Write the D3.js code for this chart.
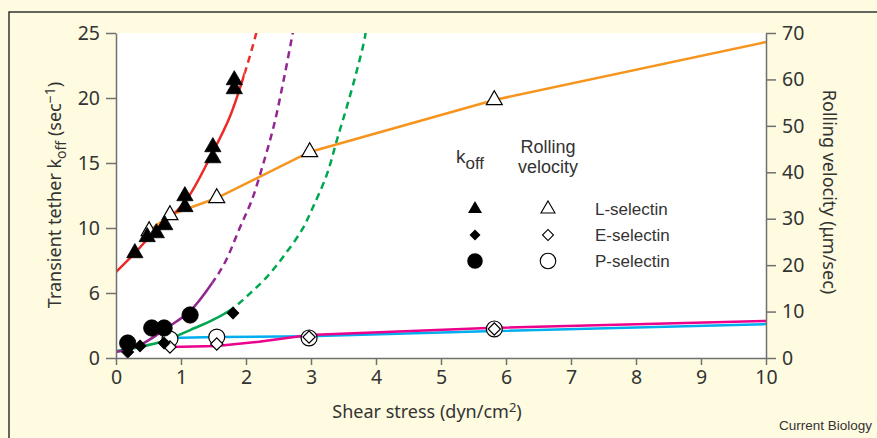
<!DOCTYPE html>
<html>
<head>
<meta charset="utf-8">
<script src="https://cdn.jsdelivr.net/npm/d3@7"></script>
<style>
  body { margin: 0; background: #fff; }
  svg text { fill: #333; }
  .axis text { font-family: "Noto Sans", "Open Sans", sans-serif; font-size: 19.5px; fill: #333; }
  .axis path, .axis line { stroke: #707070; stroke-width: 1.5px; }
</style>
</head>
<body>
<svg id="chart" width="877" height="438"></svg>
<script>
// shear stress (dyn/cm2) vs koff (sec-1) and rolling velocity (um/sec)
var koffTicks = [0, 6, 10, 15, 20, 25];
var velTicks = [0, 10, 20, 30, 40, 50, 60, 70];
var shearTicks = [0, 1, 2, 3, 4, 5, 6, 7, 8, 9, 10];

// measured koff, filled symbols
var lKoff = [[0.29,8.46],[0.48,9.45],[0.62,9.69],[0.75,10.23],[1.06,11.62],[1.06,12.46],[1.49,15.38],[1.49,16.23],[1.82,20.69],[1.82,21.38]];
var eKoff = [[0.18,0.55],[0.37,1.11],[0.74,1.38],[1.8,4.15]];
var pKoff = [[0.18,1.38],[0.55,2.77],[0.74,2.77],[1.14,3.97]];

// koff fits; solid up to the *SolidTo shear value, dashed beyond
var lFit = [[0,7.29],[0.29,8.46],[0.6,9.82],[1.06,12.0],[1.49,15.85],[1.75,18.54],[1.98,21.92],[2.15,24.85],[2.2,26]];
var lSolidTo = 1.98;
var pFit = [[0,0.55],[0.37,1.2],[0.78,2.77],[1.14,4.34],[1.49,6.68],[1.68,7.91],[1.91,10.08],[2.09,12.15],[2.26,14.85],[2.43,17.9],[2.58,21.4],[2.72,25],[2.76,26]];
var pSolidTo = 1.49;
var eFit = [[0,0.65],[0.37,1.02],[0.78,1.66],[1.14,2.58],[1.49,3.51],[1.8,4.6],[2.05,5.9],[2.32,6.98],[2.57,8.22],[2.86,9.88],[3.03,11.6],[3.25,14.2],[3.4,16.8],[3.55,19.3],[3.71,22.2],[3.83,24.7],[3.86,26]];
var eSolidTo = 1.8;

// rolling velocity, open symbols
var lVel = [[0.51,27.35],[0.83,30.8],[1.55,34.46],[2.98,44.37],[5.82,55.57]];
var eVel = [[0.83,2.37],[1.55,3.02],[2.97,4.52],[5.82,6.25]];
var pVel = [[0.83,4.09],[1.55,4.52],[2.97,4.31],[5.82,6.25]];
var lVelLine = [[0.51,27.35],[0.83,30.8],[1.55,34.46],[2.98,44.37],[5.82,55.57],[10,68.06]];
var eVelLine = [[0.83,2.37],[1.55,2.6],[2.2,3.5],[2.97,4.95],[5.82,6.5],[10,7.97]];
var pVelLine = [[0.83,4.3],[1.55,4.5],[2.97,4.7],[5.82,5.8],[10,7.3]];

var legendRows = ["L-selectin", "E-selectin", "P-selectin"];

var colors = {red:"#ee2a27", purple:"#92278f", green:"#00a651", orange:"#f7941d", cyan:"#00aeef", pink:"#ec008c"};

var margin = {top:33, left:116, right:111, bottom:80};
var W = 877, H = 438;
var w = W - margin.left - margin.right, h = H - margin.top - margin.bottom;

var svg = d3.select("#chart");
svg.append("rect").attr("width", W).attr("height", H).attr("fill", "#fefbe0");
svg.append("path").attr("d", "M9," + H + "V12H" + W).attr("fill", "none").attr("stroke", "#333").attr("stroke-width", 1.5);

var g = svg.append("g").attr("transform", "translate(" + margin.left + "," + margin.top + ")");
g.append("rect").attr("width", w).attr("height", h).attr("fill", "#fff");

var defs = g.append("defs");
defs.append("clipPath").attr("id", "plotclip").append("rect").attr("width", w).attr("height", h);

var x = d3.scaleLinear().domain([0, 10]).range([0, w]);
// broken left axis: each labelled tick evenly spaced
var yL = d3.scaleLinear().domain(koffTicks).range(koffTicks.map(function(d, i){ return h - i * h / (koffTicks.length - 1); }));
var yR = d3.scaleLinear().domain([0, 70]).range([h, 0]);

var lineL = d3.line().x(function(d){ return x(d[0]); }).y(function(d){ return yL(d[1]); }).curve(d3.curveCatmullRom);
var lineR = d3.line().x(function(d){ return x(d[0]); }).y(function(d){ return yR(d[1]); });

var plot = g.append("g").attr("clip-path", "url(#plotclip)");

function drawLine(data, line, color){
  plot.append("path").datum(data)
    .attr("d", line)
    .attr("fill", "none")
    .attr("stroke", color)
    .attr("stroke-width", 2.5);
}

// one smooth curve, split into a solid and a dashed part by two x clips
function drawFit(data, solidTo, color, id){
  defs.append("clipPath").attr("id", id + "-a").append("rect")
    .attr("x", 0).attr("y", 0).attr("width", x(solidTo)).attr("height", h);
  defs.append("clipPath").attr("id", id + "-b").append("rect")
    .attr("x", x(solidTo)).attr("y", 0).attr("width", w - x(solidTo)).attr("height", h);
  plot.append("path").datum(data)
    .attr("d", lineL).attr("fill", "none").attr("stroke", color).attr("stroke-width", 2.5)
    .attr("clip-path", "url(#" + id + "-a)");
  plot.append("path").datum(data)
    .attr("d", lineL).attr("fill", "none").attr("stroke", color).attr("stroke-width", 2.5)
    .attr("stroke-dasharray", "7,5")
    .attr("clip-path", "url(#" + id + "-b)");
}

drawLine(pVelLine, lineR, colors.cyan);
drawLine(eVelLine, lineR, colors.pink);
drawLine(lVelLine, lineR, colors.orange);
drawFit(eFit, eSolidTo, colors.green, "efit");
drawFit(pFit, pSolidTo, colors.purple, "pfit");
drawFit(lFit, lSolidTo, colors.red, "lfit");

var tri = d3.symbol().type(d3.symbolTriangle);
var dia = d3.symbol().type(d3.symbolSquare);
var circ = d3.symbol().type(d3.symbolCircle);

function drawMarks(data, y, sym, size, filled, rot){
  g.append("g").selectAll("path")
    .data(data)
    .enter()
    .append("path")
    .attr("d", sym.size(size)())
    .attr("transform", function(d){ return "translate(" + x(d[0]) + "," + y(d[1]) + ")" + (rot ? " rotate(45)" : ""); })
    .attr("fill", filled ? "#000" : "#fff")
    .attr("stroke", "#000")
    .attr("stroke-width", filled ? 0.8 : 1.2);
}

drawMarks(lVel, yR, tri, 110, false);
drawMarks(pVel, yR, circ, 200, false);
drawMarks(eVel, yR, dia, 75, false, true);
drawMarks(eKoff, yL, dia, 75, true, true);
drawMarks(pKoff, yL, circ, 210, true);
drawMarks(lKoff, yL, tri, 115, true);

// axes
g.append("g").attr("class", "axis")
  .call(d3.axisLeft(yL).tickValues(koffTicks).tickSize(10).tickSizeOuter(0).tickPadding(6));
g.append("g").attr("class", "axis")
  .attr("transform", "translate(" + w + ",0)")
  .call(d3.axisRight(yR).tickValues(velTicks).tickSize(10).tickSizeOuter(0).tickPadding(6));
g.append("g").attr("class", "axis")
  .attr("transform", "translate(0," + h + ")")
  .call(d3.axisBottom(x).tickValues(shearTicks).tickSize(7).tickSizeOuter(0).tickPadding(5));

// axis titles
var t1 = svg.append("text")
  .attr("transform", "translate(61," + 195 + ") rotate(-90)")
  .attr("text-anchor", "middle")
  .style("font-family", "'Noto Sans', sans-serif").style("font-size", "18px");
t1.append("tspan").text("Transient tether k");
t1.append("tspan").attr("dy", 5).style("font-size", "14px").text("off");
t1.append("tspan").attr("dy", -5).text(" (sec");
t1.append("tspan").attr("dy", -6).style("font-size", "14px").text("\u22121");
t1.append("tspan").attr("dy", 6).text(")");

svg.append("text")
  .attr("transform", "translate(823,192) rotate(90)")
  .attr("text-anchor", "middle")
  .style("font-family", "'Noto Sans', sans-serif").style("font-size", "18px")
  .text("Rolling velocity (\u03bcm/sec)");

var t3 = svg.append("text")
  .attr("x", margin.left + w / 2 - 14).attr("y", 418)
  .attr("text-anchor", "middle")
  .style("font-family", "'Noto Sans', sans-serif").style("font-size", "18px");
t3.append("tspan").text("Shear stress (dyn/cm");
t3.append("tspan").attr("dy", -6).style("font-size", "13px").text("2");
t3.append("tspan").attr("dy", 6).text(")");

// legend
var lg = svg.append("g").style("font-family", "'Liberation Sans', Arial, sans-serif");
var kt = lg.append("text").attr("x", 456).attr("y", 163).style("font-size", "19px");
kt.append("tspan").text("k");
kt.append("tspan").attr("dy", 6).style("font-size", "17px").text("off");
lg.append("text").attr("x", 548).attr("y", 153).attr("text-anchor", "middle").style("font-size", "18px").text("Rolling");
lg.append("text").attr("x", 548).attr("y", 173).attr("text-anchor", "middle").style("font-size", "18px").text("velocity");

var legSyms = [[tri, 85], [dia, 60], [circ, 190]];
legendRows.forEach(function(name, i){
  var yy = 209 + i * 26;
  var s = legSyms[i];
  var rot = i == 1 ? " rotate(45)" : "";
  lg.append("path").attr("d", s[0].size(s[1])())
    .attr("transform", "translate(475," + yy + ")" + rot)
    .attr("fill", "#000");
  lg.append("path").attr("d", s[0].size(s[1])())
    .attr("transform", "translate(548," + yy + ")" + rot)
    .attr("fill", "#fff").attr("stroke", "#000").attr("stroke-width", 1.1);
  lg.append("text").attr("x", 595).attr("y", yy + 6).style("font-size", "17px").text(name);
});

svg.append("text").attr("x", 872).attr("y", 430).attr("text-anchor", "end")
  .style("font-family", "'Liberation Sans', Arial, sans-serif").style("font-size", "13.5px")
  .text("Current Biology");
</script>
</body>
</html>
